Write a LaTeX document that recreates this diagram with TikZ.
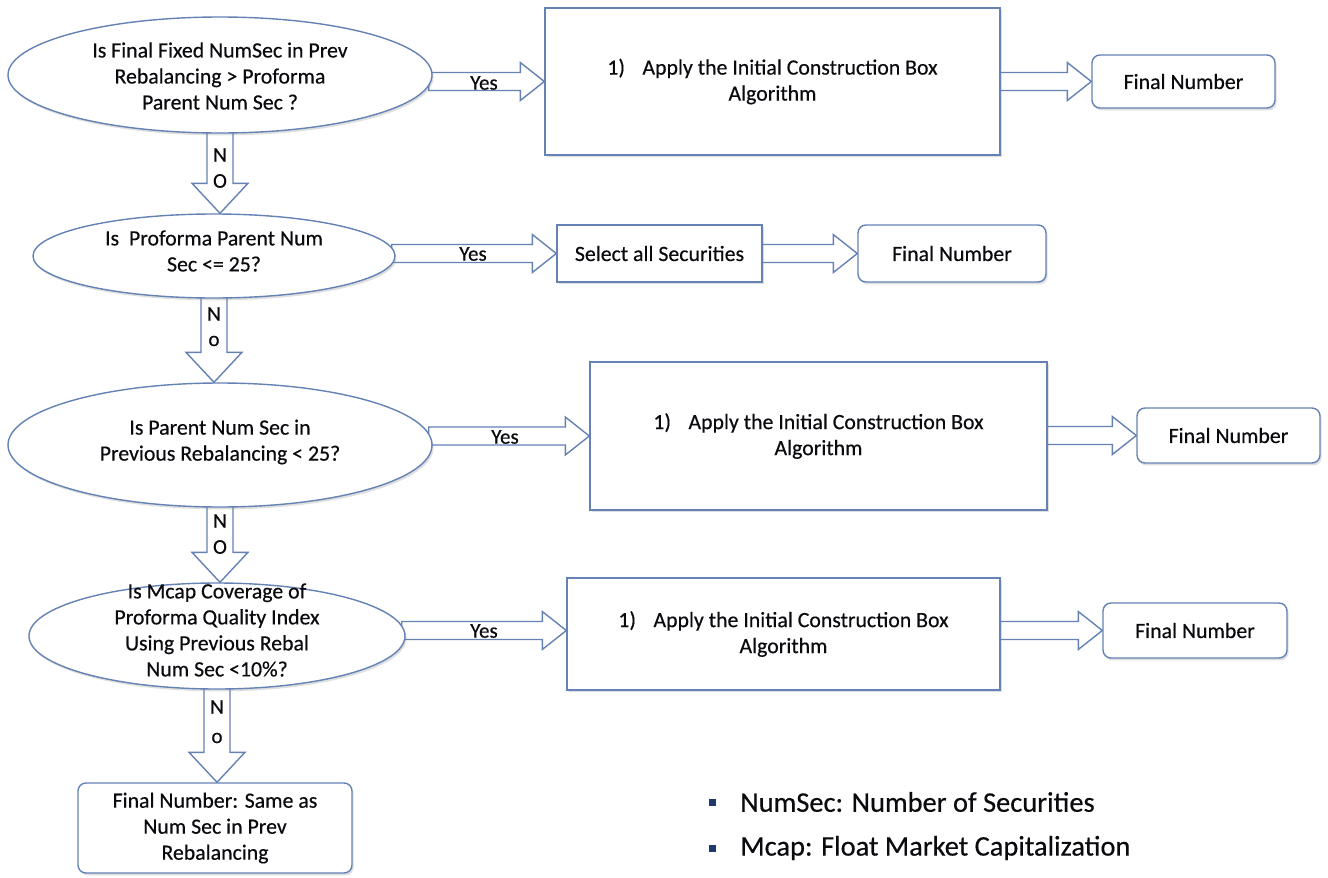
\documentclass[tikz,border=0pt]{standalone}
\usepackage{fontspec}
\setmainfont{Carlito}[FakeBold=0.4]
\usetikzlibrary{shapes.geometric,calc,shadows,backgrounds}
\definecolor{edge}{RGB}{100,130,180}
\definecolor{ink}{RGB}{10,10,15}
\definecolor{navy}{RGB}{31,56,110}
% horizontal block arrow from #1 to #2 (y taken from #2)
\newcommand{\blockH}[2]{%
  \draw[barrow] let \p1=#1, \p2=#2 in
    (\x1-2pt,\y2+4.5pt) -- (\x2-12pt,\y2+4.5pt) -- (\x2-12pt,\y2+9.5pt) -- (\x2,\y2)
    -- (\x2-12pt,\y2-9.5pt) -- (\x2-12pt,\y2-4.5pt) -- (\x1-2pt,\y2-4.5pt) -- cycle;}
% vertical block arrow from #1 down to #2 (x taken from #1)
\newcommand{\blockV}[2]{%
  \draw[barrow] let \p1=#1, \p2=#2 in
    (\x1-6.5pt,\y1+2pt) -- (\x1-6.5pt,\y2+15pt) -- (\x1-14pt,\y2+15pt) -- (\x1,\y2)
    -- (\x1+14pt,\y2+15pt) -- (\x1+6.5pt,\y2+15pt) -- (\x1+6.5pt,\y1+2pt) -- cycle;}
\begin{document}
\begin{tikzpicture}[x=0.5pt,y=-0.5pt,
  base/.style={draw=edge, line width=0.7pt, fill=white,
    drop shadow={shadow xshift=0.8pt,shadow yshift=-1.2pt,opacity=0.25},
    text=ink, font=\fontsize{10.9}{13}\selectfont, align=center, inner sep=0pt},
  dec/.style={base, ellipse},
  rect/.style={base, rectangle},
  rbox/.style={base, rectangle, rounded corners=4pt},
  txt/.style={text=ink, font=\fontsize{10.9}{13}\selectfont, align=center, inner sep=0pt},
  barrow/.style={draw=edge, line width=0.7pt, fill=white, line join=miter},
  lbl/.style={text=ink, font=\fontsize{10.5}{11}\selectfont, inner sep=0pt},
  bullet/.style={fill=navy, minimum size=3.5pt, inner sep=0pt},
  leg/.style={text=ink, font=\fontsize{14.2}{16}\selectfont, inner sep=0pt, anchor=west}]
\useasboundingbox (0,0) rectangle (1328,878);

% decisions
\node[dec, minimum width=212pt, minimum height=58pt] (e1) at (220,75) {};
\node[dec, minimum width=181pt, minimum height=42pt] (e2) at (214,256) {};
\node[dec, minimum width=212pt, minimum height=62pt] (e3) at (220,445) {};
\node[dec, minimum width=188pt, minimum height=53pt] (e4) at (217,636) {};
\node[txt] (e1t) at (220,76) {Is Final Fixed NumSec in Prev\\Rebalancing > Proforma\\Parent Num Sec ?};
\node[txt] (e2t) at (214,251) {Is\ \ Proforma Parent Num\\Sec <= 25?};
\node[txt] (e3t) at (220,442) {Is Parent Num Sec in\\Previous Rebalancing < 25?};
\node[txt] (e4t) at (217,630) {Is Mcap Coverage of\\Proforma Quality Index\\Using Previous Rebal\\Num Sec <10\%?};

% process boxes
\node[rect, minimum width=227.5pt, minimum height=73.5pt] (b1) at (772.5,81.5)
  {1)\hspace{0.8em}Apply the Initial Construction Box\\Algorithm};
\node[rect, minimum width=102.5pt, minimum height=28.5pt] (s2) at (659.5,253.5)
  {Select all Securities};
\node[rect, minimum width=228.5pt, minimum height=74pt] (b3) at (818.5,436)
  {1)\hspace{0.8em}Apply the Initial Construction Box\\Algorithm};
\node[rect, minimum width=216.5pt, minimum height=56pt] (b4) at (783.5,634)
  {1)\hspace{0.8em}Apply the Initial Construction Box\\Algorithm};

% final numbers
\node[rbox, minimum width=91.5pt, minimum height=26.5pt] (f1) at (1183.5,81.5) {Final Number};
\node[rbox, minimum width=94pt, minimum height=28.5pt] (f2) at (952,253.5) {Final Number};
\node[rbox, minimum width=91.5pt, minimum height=27.5pt] (f3) at (1228.5,435.5) {Final Number};
\node[rbox, minimum width=92pt, minimum height=27.5pt] (f4) at (1195,630.5) {Final Number};
\node[rbox, minimum width=137pt, minimum height=45pt] (fb) at (215,828)
  {Final Number: Same as\\Num Sec in Prev\\Rebalancing};

% connectors
\begin{pgfonlayer}{background}
  \fill[white] (0,0) rectangle (1328,878);
  \blockH{(e1.east)}{(b1.west)}
  \blockH{(b1.east)}{(f1.west)}
  \blockH{(e2.east)}{(s2.west)}
  \blockH{(s2.east)}{(f2.west)}
  \blockH{(e3.east)}{(b3.west)}
  \blockH{(b3.east)}{(f3.west)}
  \blockH{(e4.east)}{(b4.west |- f4)}
  \blockH{(b4.east |- f4)}{(f4.west)}
  \blockV{(e1.south)}{(e2.north)}
  \blockV{(e2.south)}{(e3.north)}
  \blockV{(e3.south)}{(e4.north)}
  \blockV{(e4.south)}{(fb.north)}
\end{pgfonlayer}

% connector labels
\node[lbl] (y1) at (484,83) {Yes};
\node[lbl] (y2) at (473,254) {Yes};
\node[lbl] (y3) at (505,437) {Yes};
\node[lbl] (y4) at (484,631) {Yes};
\node[lbl] (n1a) at (220,155) {N};
\node[lbl] (n1b) at (220,181) {O};
\node[lbl] (n2a) at (214,314) {N};
\node[lbl] (n2b) at (214,341) {o};
\node[lbl] (n3a) at (220,521) {N};
\node[lbl] (n3b) at (220,547) {O};
\node[lbl] (n4a) at (217,707) {N};
\node[lbl] (n4b) at (217,738) {o};

% legend
\node[bullet] (k1) at (712,802) {};
\node[bullet] (k2) at (712,848) {};
\node[leg] (l1) at (740,802) {NumSec: Number of Securities};
\node[leg] (l2) at (740,848) {Mcap: Float Market Capitalization};
\end{tikzpicture}
\end{document}
